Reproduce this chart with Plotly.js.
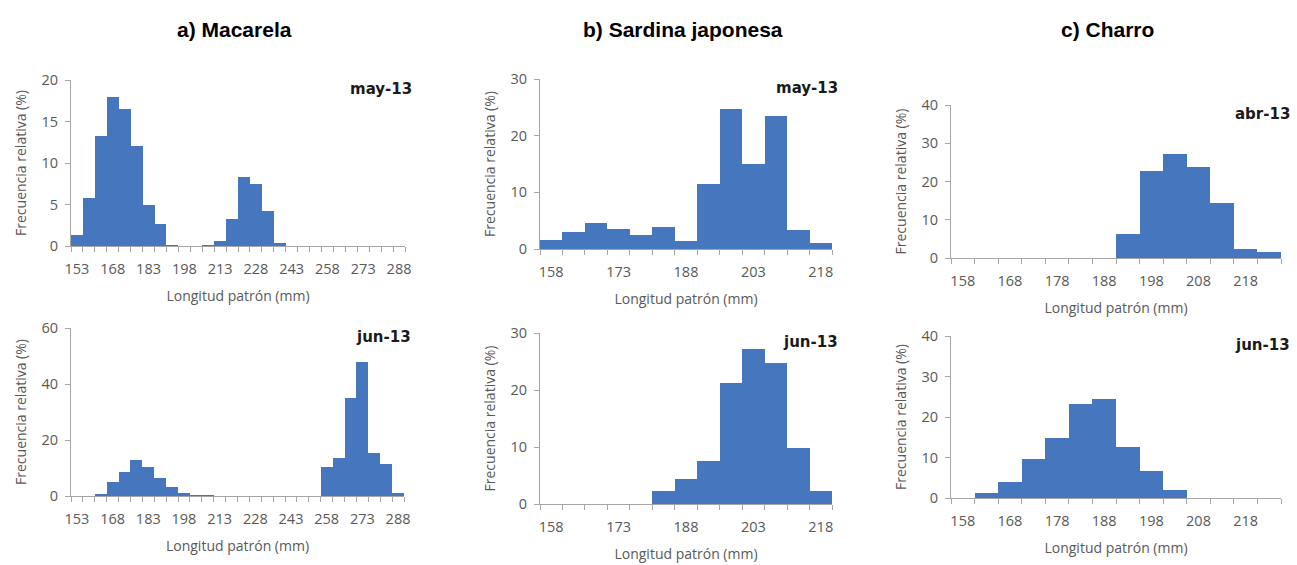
<!DOCTYPE html>
<html><head><meta charset="utf-8">
<script src="https://cdn.plot.ly/plotly-3.0.1.min.js"></script>
<style>html,body{margin:0;padding:0;background:#fff;} #chart{width:1297px;height:565px;}</style>
</head><body><div id="chart"></div>
<script>
// ---- data ----
const panelTitles = ["a) Macarela", "b) Sardina japonesa", "c) Charro"];
const monthLabels = ["may-13", "jun-13", "may-13", "jun-13", "abr-13", "jun-13"];

const macLengths = [153,158,163,168,173,178,183,188,193,198,203,208,213,218,223,228,233,238,243,248,253,258,263,268,273,278,283,288];
const macMay = [1.3,5.8,13.2,18.0,16.5,12.1,4.9,2.6,0.1,0,0,0.1,0.6,3.3,8.3,7.5,4.2,0.4,0,0,0,0,0,0,0,0,0,0];
const macJun = [0,0,0.6,4.9,8.7,12.9,10.5,6.3,3.1,1.0,0.3,0.3,0,0,0,0,0,0,0,0,0,10.5,13.5,35.0,47.7,15.5,11.5,1.0];
const macTicks = [153,168,183,198,213,228,243,258,273,288];

const sarLengths = [158,163,168,173,178,183,188,193,198,203,208,213,218];
const sarMay = [1.6,3.0,4.6,3.5,2.4,3.9,1.35,11.5,24.7,15.0,23.5,3.3,1.05];
const sarJun = [0,0,0,0,0,2.2,4.4,7.6,21.2,27.2,24.8,9.8,2.2];
const sarTicks = [158,173,188,203,218];

const chaLengths = [158,163,168,173,178,183,188,193,198,203,208,213,218,223];
const chaAbr = [0,0,0,0,0,0,0,6.2,22.8,27.3,23.7,14.5,2.4,1.6];
const chaJun = [0,1.3,4.0,9.6,14.7,23.2,24.5,12.6,6.7,2.1,0,0,0,0];
const chaTicks = [158,168,178,188,198,208,218];

const yMax = [20, 60, 30, 30, 40, 40];
const yStep = [5, 20, 10, 10, 10, 10];

// ---- layout helpers ----
const W = 1297, H = 565;
const BAR = '#4677BE';
const GRAY = '#595959';
const AXIS = '#A6A6A6';
// pixel boxes [left, right, top, bottom]
const boxes = [
  [71, 405, 80, 246],
  [71, 404, 328, 496],
  [540, 832, 79, 249],
  [540, 832, 333, 504],
  [951, 1281, 105, 258],
  [951, 1281, 336, 498]
];
const panels = [
  {x: macLengths, y: macMay, ticks: macTicks},
  {x: macLengths, y: macJun, ticks: macTicks},
  {x: sarLengths, y: sarMay, ticks: sarTicks},
  {x: sarLengths, y: sarJun, ticks: sarTicks},
  {x: chaLengths, y: chaAbr, ticks: chaTicks},
  {x: chaLengths, y: chaJun, ticks: chaTicks}
];
const tickFont = {family: 'Open Sans, Liberation Sans, sans-serif', size: 14.5, color: GRAY};
const titleFont = {family: 'Open Sans, Liberation Sans, sans-serif', size: 14, color: GRAY};

const data = [];
const layout = {
  width: W, height: H,
  margin: {l: 0, r: 0, t: 0, b: 0},
  paper_bgcolor: '#fff', plot_bgcolor: '#fff',
  showlegend: false, bargap: 0,
  annotations: []
};

panels.forEach((p, i) => {
  const n = i + 1;
  const xa = 'x' + (n === 1 ? '' : n), ya = 'y' + (n === 1 ? '' : n);
  const xk = 'xaxis' + (n === 1 ? '' : n), yk = 'yaxis' + (n === 1 ? '' : n);
  const b = boxes[i];
  const step = p.x[1] - p.x[0];
  data.push({
    type: 'bar', x: p.x, y: p.y, xaxis: xa, yaxis: ya,
    width: step, marker: {color: BAR, line: {width: 0}},
    hoverinfo: 'x+y'
  });
  const lo = p.x[0] - step / 2, hi = p.x[p.x.length - 1] + step / 2;
  const bounds = [];
  for (let k = 0; k <= p.x.length; k++) bounds.push(lo + k * step);
  layout[xk] = {
    domain: [b[0] / W, b[1] / W], anchor: ya,
    range: [lo, hi], fixedrange: true,
    tickmode: 'array', tickvals: p.ticks, ticktext: p.ticks.map(String),
    ticks: '', showgrid: false, zeroline: false,
    showline: true, linecolor: AXIS, linewidth: 1,
    tickfont: tickFont, ticklabelstandoff: 10,
    minor: {tickmode: 'array', tickvals: bounds, ticks: 'outside', ticklen: 5, tickcolor: AXIS, tickwidth: 1, showgrid: false},
    title: {text: 'Longitud patrón (mm)', font: titleFont, standoff: 13}
  };
  layout[yk] = {
    domain: [1 - b[3] / H, 1 - b[2] / H], anchor: xa,
    range: [0, yMax[i]], dtick: yStep[i], tick0: 0, fixedrange: true,
    ticks: 'outside', ticklen: 5, tickcolor: AXIS, tickwidth: 1,
    showgrid: false, zeroline: false,
    showline: true, linecolor: AXIS, linewidth: 1,
    tickfont: tickFont, ticklabelstandoff: 4,
    title: {text: 'Frecuencia relativa (%)', font: titleFont, standoff: 11}
  };
  layout.annotations.push({
    xref: 'paper', yref: 'paper', x: (b[1] + (i >= 4 ? 11 : (i >= 2 ? 8 : 9))) / W, y: 1 - (b[2] - 2) / H,
    xanchor: 'right', yanchor: 'top', showarrow: false,
    text: '<b>' + monthLabels[i] + '</b>',
    font: {family: 'DejaVu Sans, sans-serif', size: 15, color: '#1a1a1a'}
  });
});

const titleX = [234, 683, 1107];
panelTitles.forEach((t, j) => {
  layout.annotations.push({
    xref: 'paper', yref: 'paper', x: titleX[j] / W, y: 1 - 30 / H,
    xanchor: 'center', yanchor: 'middle', showarrow: false,
    text: '<b>' + t + '</b>',
    font: {family: 'Liberation Sans, Arial, sans-serif', size: 21, color: '#000'}
  });
});

Plotly.newPlot('chart', data, layout, {displayModeBar: false, staticPlot: true});
</script>
</body></html>
